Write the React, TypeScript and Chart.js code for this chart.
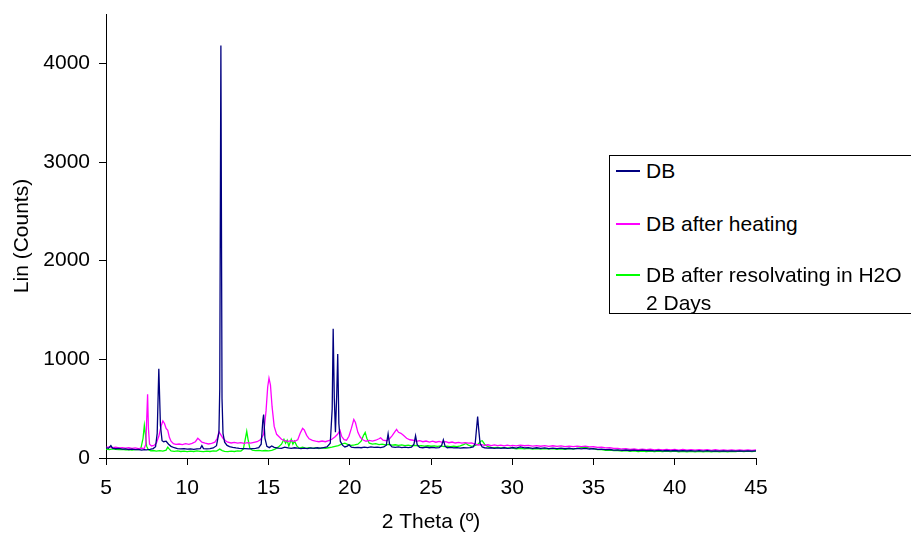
import { useEffect, useRef } from "react";
import { Chart, registerables } from "chart.js";

Chart.register(...registerables);

// ---------- data ----------
const SERIES_LABELS = ["DB", "DB after heating", "DB after resolvating in H2O 2 Days"];
const SERIES_COLORS = ["#000080", "#FF00FF", "#00FF00"];
const X_TICKS = [5, 10, 15, 20, 25, 30, 35, 40, 45];
const Y_TICKS = [0, 1000, 2000, 3000, 4000];
const X_TITLE = "2 Theta (º)";
const Y_TITLE = "Lin (Counts)";

// [2θ, counts]
const DB: [number, number][] = [
  [5.0, 105], [5.15, 98], [5.3, 125], [5.4, 100], [5.6, 94], [5.8, 98], [6.0, 90], [6.2, 92], [6.4, 86],
  [6.6, 90], [6.8, 84], [7.0, 86], [7.2, 80], [7.35, 84], [7.5, 82], [7.7, 88], [7.9, 95], [8.05, 115],
  [8.15, 250], [8.25, 905], [8.35, 330], [8.45, 175], [8.55, 165], [8.7, 170], [8.85, 140], [9.0, 118],
  [9.2, 104], [9.4, 96], [9.6, 92], [9.8, 95], [10.0, 90], [10.2, 93], [10.4, 88], [10.6, 92], [10.8, 96],
  [10.9, 125], [11.0, 95], [11.2, 92], [11.4, 96], [11.6, 102], [11.8, 125], [11.95, 260], [12.0, 700],
  [12.07, 4180], [12.14, 600], [12.2, 250], [12.3, 160], [12.45, 128], [12.6, 115], [12.8, 108],
  [13.0, 102], [13.2, 98], [13.4, 95], [13.6, 96], [13.8, 92], [14.0, 95], [14.2, 98], [14.4, 104],
  [14.55, 140], [14.65, 380], [14.7, 440], [14.78, 200], [14.9, 118], [15.05, 105], [15.2, 122],
  [15.35, 108], [15.6, 100], [15.8, 98], [16.0, 110], [16.2, 102], [16.4, 98], [16.6, 104], [16.8, 100],
  [17.0, 95], [17.2, 100], [17.4, 96], [17.6, 102], [17.8, 98], [18.0, 104], [18.2, 100], [18.4, 106],
  [18.6, 112], [18.8, 150], [18.92, 500], [18.98, 1310], [19.05, 600], [19.12, 260], [19.2, 650],
  [19.26, 1055], [19.33, 350], [19.42, 170], [19.55, 130], [19.7, 112], [19.85, 120], [19.95, 135],
  [20.1, 110], [20.3, 105], [20.5, 108], [20.7, 104], [20.9, 110], [21.1, 106], [21.3, 112], [21.5, 108],
  [21.7, 110], [21.9, 106], [22.1, 112], [22.25, 130], [22.36, 245], [22.45, 140], [22.6, 112],
  [22.8, 108], [23.0, 112], [23.2, 106], [23.4, 110], [23.6, 105], [23.8, 110], [23.95, 140], [24.05, 225],
  [24.15, 135], [24.3, 108], [24.5, 104], [24.7, 110], [24.9, 104], [25.1, 108], [25.3, 102], [25.5, 106],
  [25.65, 125], [25.76, 185], [25.87, 118], [26.0, 104], [26.2, 108], [26.4, 102], [26.6, 106],
  [26.8, 100], [27.0, 104], [27.2, 102], [27.4, 106], [27.6, 112], [27.72, 150], [27.82, 330], [27.87, 420],
  [27.93, 300], [28.02, 150], [28.15, 112], [28.3, 104], [28.5, 100], [28.7, 104], [28.9, 98], [29.1, 102],
  [29.3, 98], [29.5, 104], [29.7, 98], [29.9, 100],
  [30.0, 106], [30.25, 100], [30.5, 112], [30.75, 102], [31.0, 106], [31.25, 98], [31.5, 104], [31.75, 97],
  [32.0, 102], [32.25, 96], [32.5, 101], [32.75, 95], [33.0, 100], [33.25, 94], [33.5, 99], [33.75, 93],
  [34.0, 98], [34.25, 93], [34.5, 97], [34.75, 91], [35.0, 94], [35.25, 88], [35.5, 90], [35.75, 84],
  [36.0, 86], [36.25, 80], [36.5, 83], [36.75, 78], [37.0, 81], [37.25, 76], [37.5, 80], [37.75, 75],
  [38.0, 79], [38.25, 74], [38.5, 78], [38.75, 73], [39.0, 77], [39.25, 72], [39.5, 76], [39.75, 72],
  [40.0, 76], [40.25, 71], [40.5, 75], [40.75, 71], [41.0, 75], [41.25, 70], [41.5, 74], [41.75, 70],
  [42.0, 74], [42.25, 70], [42.5, 73], [42.75, 69], [43.0, 73], [43.25, 69], [43.5, 73], [43.75, 69],
  [44.0, 72], [44.25, 69], [44.5, 72], [44.75, 70], [45.0, 72],
];

const DB_HEATED: [number, number][] = [
  [5.0, 108], [5.2, 112], [5.4, 104], [5.6, 110], [5.8, 102], [6.0, 106], [6.2, 100], [6.4, 104],
  [6.6, 98], [6.8, 102], [7.0, 96], [7.2, 100], [7.35, 96], [7.45, 140], [7.52, 460], [7.56, 645],
  [7.61, 300], [7.68, 140], [7.8, 122], [7.95, 128], [8.1, 150], [8.25, 220], [8.4, 330], [8.5, 375],
  [8.6, 350], [8.7, 300], [8.8, 280], [8.9, 210], [9.0, 170], [9.15, 145], [9.3, 138], [9.5, 142],
  [9.7, 135], [9.9, 145], [10.1, 138], [10.3, 148], [10.5, 165], [10.65, 200], [10.75, 185], [10.9, 160],
  [11.1, 150], [11.3, 142], [11.5, 148], [11.7, 160], [11.85, 200], [11.95, 265], [12.05, 240],
  [12.2, 200], [12.35, 175], [12.5, 160], [12.7, 152], [12.9, 158], [13.1, 150], [13.3, 156], [13.5, 148],
  [13.7, 155], [13.9, 150], [14.1, 158], [14.3, 165], [14.5, 185], [14.7, 240], [14.85, 480], [14.95, 720],
  [15.03, 810], [15.12, 740], [15.22, 520], [15.35, 320], [15.5, 240], [15.65, 215], [15.8, 190],
  [16.0, 175], [16.2, 168], [16.4, 175], [16.6, 168], [16.8, 185], [16.95, 250], [17.1, 300], [17.2, 285],
  [17.35, 230], [17.5, 195], [17.7, 178], [17.9, 170], [18.1, 165], [18.3, 172], [18.5, 165], [18.7, 175],
  [18.9, 190], [19.1, 215], [19.25, 240], [19.4, 280], [19.5, 220], [19.65, 185], [19.8, 180], [19.95, 220],
  [20.1, 300], [20.25, 390], [20.35, 360], [20.5, 260], [20.65, 210], [20.8, 185], [21.0, 170], [21.2, 178],
  [21.4, 172], [21.6, 180], [21.8, 195], [21.9, 205], [22.05, 180], [22.25, 175], [22.45, 195], [22.6, 225],
  [22.75, 260], [22.88, 290], [23.0, 260], [23.15, 250], [23.3, 230], [23.5, 200], [23.7, 185], [23.9, 180],
  [24.1, 168], [24.3, 175], [24.5, 165], [24.7, 172], [24.9, 162], [25.1, 170], [25.3, 160], [25.5, 168],
  [25.7, 158], [25.9, 165], [26.1, 155], [26.3, 162], [26.5, 152], [26.7, 158], [26.9, 150], [27.1, 156],
  [27.3, 150], [27.5, 152], [27.7, 140], [27.9, 132], [28.1, 136], [28.3, 128], [28.5, 134], [28.7, 126],
  [28.9, 132], [29.1, 125], [29.3, 130], [29.5, 124], [29.7, 130], [29.9, 124],
  [30.0, 128], [30.25, 122], [30.5, 131], [30.75, 124], [31.0, 128], [31.25, 120], [31.5, 126], [31.75, 119],
  [32.0, 125], [32.25, 118], [32.5, 124], [32.75, 117], [33.0, 122], [33.25, 116], [33.5, 121], [33.75, 115],
  [34.0, 120], [34.25, 116], [34.5, 120], [34.75, 112], [35.0, 114], [35.25, 107], [35.5, 110], [35.75, 103],
  [36.0, 104], [36.25, 97], [36.5, 98], [36.75, 91], [37.0, 94], [37.25, 87], [37.5, 91], [37.75, 85],
  [38.0, 90], [38.25, 84], [38.5, 89], [38.75, 83], [39.0, 88], [39.25, 82], [39.5, 87], [39.75, 81],
  [40.0, 86], [40.25, 80], [40.5, 86], [40.75, 80], [41.0, 85], [41.25, 79], [41.5, 85], [41.75, 79],
  [42.0, 84], [42.25, 78], [42.5, 84], [42.75, 78], [43.0, 83], [43.25, 78], [43.5, 83], [43.75, 77],
  [44.0, 82], [44.25, 77], [44.5, 82], [44.75, 78], [45.0, 81],
];

const DB_RESOLVATED: [number, number][] = [
  [5.0, 90], [5.2, 86], [5.4, 92], [5.6, 88], [5.8, 84], [6.0, 88], [6.2, 82], [6.4, 86], [6.6, 80],
  [6.8, 84], [7.0, 86], [7.15, 100], [7.28, 200], [7.36, 330], [7.42, 250], [7.5, 120], [7.6, 85],
  [7.75, 72], [7.9, 76], [8.1, 70], [8.3, 74], [8.5, 70], [8.7, 80], [8.8, 110], [8.9, 90], [9.0, 72],
  [9.2, 68], [9.4, 72], [9.6, 66], [9.8, 70], [10.0, 64], [10.2, 70], [10.4, 66], [10.6, 72], [10.8, 68],
  [11.0, 64], [11.2, 70], [11.4, 66], [11.6, 72], [11.8, 70], [12.0, 90], [12.15, 75], [12.3, 68],
  [12.5, 64], [12.7, 70], [12.9, 66], [13.1, 72], [13.3, 70], [13.45, 90], [13.58, 200], [13.66, 270],
  [13.75, 180], [13.85, 100], [14.0, 80], [14.2, 74], [14.4, 78], [14.6, 72], [14.8, 76], [15.0, 72],
  [15.2, 78], [15.4, 90], [15.6, 110], [15.8, 140], [15.95, 190], [16.05, 150], [16.15, 180], [16.25, 120],
  [16.4, 190], [16.5, 140], [16.6, 170], [16.75, 120], [16.9, 100], [17.1, 110], [17.3, 98], [17.5, 105],
  [17.7, 98], [17.9, 104], [18.1, 96], [18.3, 102], [18.5, 98], [18.7, 104], [18.9, 110], [19.1, 118],
  [19.3, 125], [19.5, 140], [19.7, 150], [19.9, 135], [20.1, 128], [20.3, 132], [20.5, 140], [20.7, 170],
  [20.85, 230], [20.95, 260], [21.05, 200], [21.2, 150], [21.4, 140], [21.6, 145], [21.8, 135], [22.0, 140],
  [22.2, 132], [22.4, 138], [22.6, 130], [22.8, 134], [23.0, 128], [23.2, 132], [23.4, 126], [23.6, 130],
  [23.8, 124], [24.0, 128], [24.2, 122], [24.4, 126], [24.6, 120], [24.8, 124], [25.0, 119], [25.2, 123],
  [25.4, 118], [25.6, 122], [25.8, 116], [26.0, 120], [26.2, 115], [26.4, 119], [26.6, 116], [26.8, 122],
  [27.0, 135], [27.15, 148], [27.3, 130], [27.5, 118], [27.7, 125], [27.9, 140], [28.05, 170], [28.15, 175],
  [28.3, 140], [28.5, 115], [28.7, 108], [28.9, 104], [29.1, 108], [29.3, 102], [29.5, 106], [29.7, 100],
  [29.9, 104],
  [30.0, 100], [30.25, 94], [30.5, 98], [30.75, 92], [31.0, 97], [31.25, 91], [31.5, 96], [31.75, 90],
  [32.0, 95], [32.25, 89], [32.5, 94], [32.75, 88], [33.0, 93], [33.25, 88], [33.5, 94], [33.75, 90],
  [34.0, 98], [34.25, 104], [34.5, 110], [34.75, 100], [35.0, 92], [35.25, 86], [35.5, 84], [35.75, 78],
  [36.0, 80], [36.25, 74], [36.5, 76], [36.75, 70], [37.0, 74], [37.25, 68], [37.5, 72], [37.75, 66],
  [38.0, 71], [38.25, 66], [38.5, 70], [38.75, 65], [39.0, 70], [39.25, 64], [39.5, 69], [39.75, 64],
  [40.0, 69], [40.25, 63], [40.5, 68], [40.75, 63], [41.0, 68], [41.25, 63], [41.5, 68], [41.75, 62],
  [42.0, 67], [42.25, 63], [42.5, 68], [42.75, 62], [43.0, 67], [43.25, 63], [43.5, 68], [43.75, 64],
  [44.0, 69], [44.25, 64], [44.5, 70], [44.75, 66], [45.0, 70],
];

const SERIES = [DB, DB_HEATED, DB_RESOLVATED];

const FONT_FAMILY = "'Liberation Sans', Arial, Helvetica, sans-serif";

export default function App() {
  const canvasRef = useRef<HTMLCanvasElement | null>(null);

  useEffect(() => {
    if (!canvasRef.current) return;
    const tickFont = { family: FONT_FAMILY, size: 21 };
    const chart = new Chart(canvasRef.current, {
      type: "line",
      data: {
        datasets: SERIES.map((pts, i) => ({
          label: SERIES_LABELS[i],
          data: pts.map(([x, y]) => ({ x, y })),
          borderColor: SERIES_COLORS[i],
          backgroundColor: SERIES_COLORS[i],
          borderWidth: 1.3,
          pointRadius: 0,
          pointHoverRadius: 0,
          tension: 0,
          fill: false,
        })),
      },
      options: {
        animation: false,
        responsive: false,
        devicePixelRatio: 1,
        events: [],
        layout: { padding: { top: 14, right: 155, left: 0, bottom: 0 } },
        plugins: {
          legend: { display: false },
          tooltip: { enabled: false },
          title: { display: false },
        },
        scales: {
          x: {
            type: "linear",
            min: 5,
            max: 45,
            afterBuildTicks: (s: any) => {
              s.ticks = X_TICKS.map((v) => ({ value: v }));
            },
            afterFit: (s: any) => {
              s.height = 75;
              s.paddingLeft = 0;
              s.paddingRight = 0;
            },
            ticks: {
              color: "#000",
              font: tickFont,
              padding: 11,
              maxRotation: 0,
              autoSkip: false,
              callback: (v: any) => String(v),
            },
            grid: {
              display: true,
              drawOnChartArea: false,
              drawTicks: true,
              tickLength: 7,
              color: "#000",
              lineWidth: 1,
            },
            border: { display: true, color: "#000", width: 1 },
            title: {
              display: true,
              text: X_TITLE,
              color: "#000",
              font: { family: FONT_FAMILY, size: 21, lineHeight: 1 },
              padding: { top: 0, bottom: 0 },
            },
          },
          y: {
            type: "linear",
            min: 0,
            max: 4500,
            afterBuildTicks: (s: any) => {
              s.ticks = Y_TICKS.map((v) => ({ value: v }));
            },
            afterFit: (s: any) => {
              s.width = 106;
              s.paddingTop = 0;
              s.paddingBottom = 0;
            },
            ticks: {
              color: "#000",
              font: tickFont,
              padding: 9,
              callback: (v: any) => String(v),
            },
            grid: {
              display: true,
              drawOnChartArea: false,
              drawTicks: true,
              tickLength: 7,
              color: "#000",
              lineWidth: 1,
            },
            border: { display: true, color: "#000", width: 1 },
            title: {
              display: true,
              text: Y_TITLE,
              color: "#000",
              font: { family: FONT_FAMILY, size: 21, lineHeight: 1 },
              padding: { top: 12, bottom: 0 },
            },
          },
        },
      },
    } as any);
    return () => chart.destroy();
  }, []);

  const legendRows = [
    { line: 170, textTop: 157 },
    { line: 223, textTop: 210 },
    { line: 274, textTop: 261 },
  ];

  return (
    <div
      style={{
        position: "fixed",
        left: 0,
        top: 0,
        width: 911,
        height: 533,
        overflow: "hidden",
        background: "#fff",
      }}
    >
      <canvas ref={canvasRef} width={911} height={533} style={{ position: "absolute", left: 0, top: 0, width: 911, height: 533 }} />
      <div
        style={{
          position: "absolute",
          left: 609,
          top: 155,
          width: 330,
          height: 159,
          boxSizing: "border-box",
          border: "1px solid #000",
          background: "#fff",
        }}
      />
      {SERIES_LABELS.map((label, i) => (
        <div key={label}>
          <div
            style={{
              position: "absolute",
              left: 616,
              top: legendRows[i].line,
              width: 24,
              height: 2,
              background: SERIES_COLORS[i],
            }}
          />
          <div
            style={{
              position: "absolute",
              left: 646,
              top: legendRows[i].textTop,
              width: 262,
              fontFamily: FONT_FAMILY,
              fontSize: 21,
              lineHeight: "28px",
              color: "#000",
            }}
          >
            {label}
          </div>
        </div>
      ))}
    </div>
  );
}
